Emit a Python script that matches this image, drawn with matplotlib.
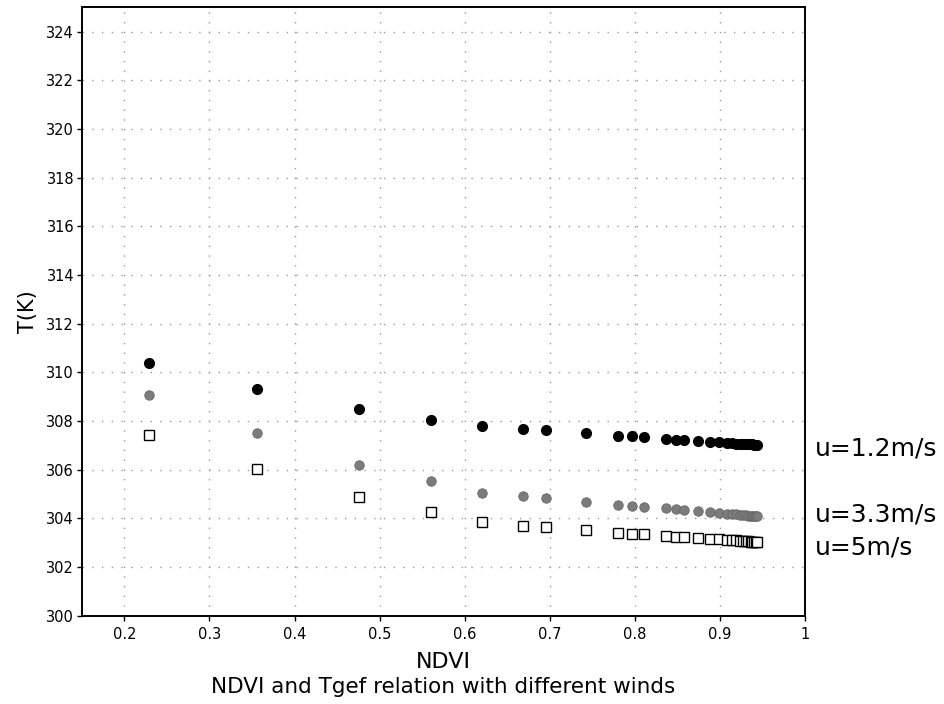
import matplotlib
matplotlib.use("Agg")
import matplotlib.pyplot as plt
from matplotlib import font_manager

# ---- data ----
ndvi = [0.229, 0.356, 0.476, 0.560, 0.620, 0.669, 0.696, 0.742, 0.780, 0.796,
        0.811, 0.837, 0.848, 0.858, 0.874, 0.888, 0.899,
        0.908, 0.914, 0.919, 0.923, 0.927, 0.930, 0.933, 0.936, 0.938, 0.940, 0.942, 0.944]

t_u12 = [310.38, 309.32, 308.49, 308.05, 307.77, 307.65, 307.61, 307.50, 307.39, 307.36,
         307.33, 307.26, 307.23, 307.22, 307.17, 307.14, 307.13,
         307.10, 307.08, 307.07, 307.06, 307.05, 307.04, 307.04, 307.03, 307.03, 307.02, 307.02, 307.02]

t_u33 = [309.07, 307.50, 306.19, 305.51, 305.05, 304.92, 304.84, 304.67, 304.55, 304.52,
         304.48, 304.41, 304.37, 304.34, 304.30, 304.25, 304.21,
         304.18, 304.17, 304.16, 304.14, 304.13, 304.12, 304.11, 304.10, 304.09, 304.08, 304.07, 304.07]

t_u5 = [307.43, 306.02, 304.88, 304.26, 303.86, 303.68, 303.64, 303.52, 303.41, 303.37,
        303.33, 303.26, 303.24, 303.23, 303.19, 303.16, 303.14,
        303.12, 303.10, 303.09, 303.08, 303.07, 303.06, 303.05, 303.04, 303.03, 303.02, 303.02, 303.01]

series_labels = ["u=1.2m/s", "u=3.3m/s", "u=5m/s"]
label_y = [306.85, 304.14, 302.78]

xticks = [0.2, 0.3, 0.4, 0.5, 0.6, 0.7, 0.8, 0.9, 1.0]
xtick_labels = ["0.2", "0.3", "0.4", "0.5", "0.6", "0.7", "0.8", "0.9", "1"]
yticks = list(range(300, 325, 2))

# ---- fonts ----
names = {f.name for f in font_manager.fontManager.ttflist}
narrow = "Liberation Sans Narrow" if "Liberation Sans Narrow" in names else "DejaVu Sans"
plt.rcParams['font.family'] = ['DejaVu Sans']

fig = plt.figure(figsize=(9.45, 7.04), dpi=100)
ax = fig.add_axes([0.0865, 0.1257, 0.7655, 0.8639])

ax.set_xlim(0.15, 1.0)
ax.set_ylim(300, 325)

ax.plot(ndvi, t_u12, linestyle='none', marker='o', markersize=7,
        markerfacecolor='black', markeredgecolor='black', zorder=3)
ax.plot(ndvi, t_u33, linestyle='none', marker='o', markersize=6.8,
        markerfacecolor='#7c7c7c', markeredgecolor='#666666', markeredgewidth=0.6, zorder=3)
ax.plot(ndvi, t_u5, linestyle='none', marker='s', markersize=7,
        markerfacecolor='white', markeredgecolor='black', markeredgewidth=1.0, zorder=3)

ax.set_xticks(xticks)
ax.set_xticklabels(xtick_labels)
ax.set_yticks(yticks)
ax.tick_params(axis='both', direction='out', length=3.5, width=1.0, labelsize=10.5, colors='black')
ax.tick_params(axis='x', pad=5)
ax.tick_params(axis='y', pad=2)

ax.grid(True, color='#9a9a9a', linestyle=(0, (1, 6)), linewidth=1.0)
ax.set_axisbelow(True)

for s in ax.spines.values():
    s.set_linewidth(1.4)
    s.set_color('black')

ax.set_ylabel("T(K)", fontsize=15, labelpad=6)

for lab, yv in zip(series_labels, label_y):
    ax.text(1.0138, yv, lab, transform=ax.get_yaxis_transform(), fontsize=18,
            va='center', ha='left', clip_on=False)

fig.text(0.469, 0.059, "NDVI", ha='center', va='center', fontsize=16, family=narrow)
fig.text(0.469, 0.024, "NDVI and Tgef relation with different winds", ha='center',
         va='center', fontsize=15.5, family=narrow)

fig.savefig("out.png", dpi=100)
